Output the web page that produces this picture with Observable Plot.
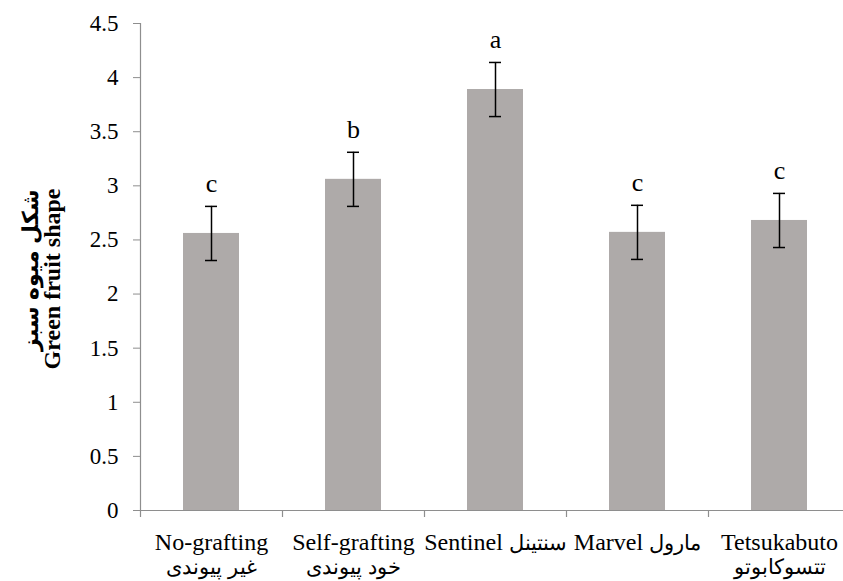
<!DOCTYPE html>
<html>
<head>
<meta charset="utf-8">
<script src="https://cdn.jsdelivr.net/npm/d3@7"></script>
<script src="https://cdn.jsdelivr.net/npm/@observablehq/plot@0.6"></script>
<style>
  @font-face { font-family: "FaSans"; src: local("DejaVu Sans"); unicode-range: U+0600-06FF, U+FB50-FDFF, U+FE70-FEFF; size-adjust: 88%; }
  @font-face { font-family: "FaSans"; font-weight: bold; src: local("DejaVu Sans Bold"); unicode-range: U+0600-06FF, U+FB50-FDFF, U+FE70-FEFF; size-adjust: 88%; }
  body { margin: 0; background: #fff; }
  #chart svg, #chart svg text { font-family: "Liberation Serif", "FaSans", "DejaVu Sans", serif; }
</style>
</head>
<body>
<div id="chart"></div>
<script>
const categories = [
  "No-grafting\nغیر پیوندی",
  "Self-grafting\nخود پیوندی",
  "Sentinel سنتینل",
  "Marvel مارول",
  "Tetsukabuto\nتتسوکابوتو"
];
const means = [2.56, 3.06, 3.89, 2.57, 2.68];
const errors = [0.25, 0.25, 0.25, 0.25, 0.25];
const letters = ["c", "b", "a", "c", "c"];
const yTicks = [0, 0.5, 1, 1.5, 2, 2.5, 3, 3.5, 4, 4.5];
const yTitleFa = "شکل میوه سبز";
const yTitleEn = "Green fruit shape";

const data = categories.map((c, i) => ({cat: c, mean: means[i], se: errors[i], letter: letters[i]}));

const gray = "#8e8e8e";
const font = "'Liberation Serif', 'FaSans', 'DejaVu Sans', serif";
const step = 142;

const chart = Plot.plot({
  width: 843,
  height: 581,
  marginLeft: 140,
  marginRight: 0,
  marginTop: 23,
  marginBottom: 71,
  style: {fontFamily: font, color: "#000", background: "#fff"},
  x: {type: "band", domain: categories, range: [140, 850], padding: 0, axis: null},
  y: {domain: [0, 4.5], axis: null},
  marks: [
    Plot.barY(data, {x: "cat", y: "mean", fill: "#aeaaa9", insetLeft: 43, insetRight: 43}),
    Plot.ruleY([0], {stroke: gray, strokeWidth: 1.2}),
    Plot.ruleX([categories[0]], {x: d => d, dx: -step / 2, stroke: gray, strokeWidth: 1.2}),
    Plot.ruleX(categories, {x: d => d, y1: 0, y2: 0, insetBottom: -7, dx: -step / 2, stroke: gray, strokeWidth: 1.2}),
    Plot.ruleX(data, {x: "cat", y1: d => d.mean - d.se, y2: d => d.mean + d.se, stroke: "#000", strokeWidth: 1.5}),
    Plot.tickY(data, {x: "cat", y: d => d.mean - d.se, stroke: "#000", strokeWidth: 1.5, insetLeft: 65, insetRight: 65}),
    Plot.tickY(data, {x: "cat", y: d => d.mean + d.se, stroke: "#000", strokeWidth: 1.5, insetLeft: 65, insetRight: 65}),
    Plot.text(data, {x: "cat", y: d => d.mean + d.se, text: "letter", lineAnchor: "bottom", dy: -14, fontSize: 26, fontFamily: font, fill: "#000"}),
    Plot.axisY({ticks: yTicks, tickFormat: d => String(d), tickSize: 7, tickPadding: 15, fontSize: 23, fontFamily: font, stroke: gray, fill: "#000", label: null}),
    Plot.axisX({tickSize: 0, tickPadding: 22, fontSize: 24, fontFamily: font, lineHeight: 1.0, fill: "#000", label: null}),
    Plot.text([yTitleEn], {frameAnchor: "top-left", rotate: -90, textAnchor: "end", dx: 42 - 140, dy: 188 - 23, fontWeight: "bold", fontSize: 24, fontFamily: font, fill: "#000"}),
    Plot.text([yTitleFa], {frameAnchor: "top-left", rotate: -90, textAnchor: "end", dx: 20 - 140, dy: 188 - 23, fontWeight: "bold", fontSize: 25, fontFamily: font, fill: "#000"})
  ]
});
document.getElementById("chart").appendChild(chart);
</script>
</body>
</html>
